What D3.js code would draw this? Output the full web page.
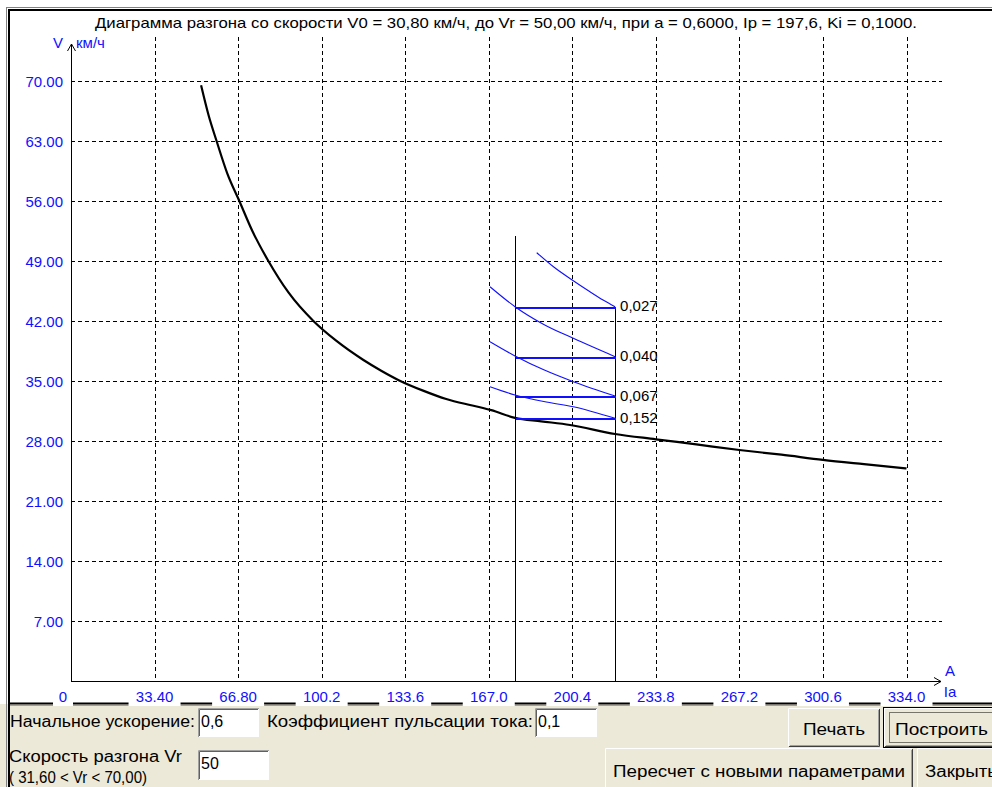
<!DOCTYPE html>
<html>
<head>
<meta charset="utf-8">
<script src="https://cdn.jsdelivr.net/npm/d3@7"></script>
<style>
  html, body { margin: 0; padding: 0; background: #fff; }
  svg { display: block; }
  text { font-family: "Liberation Sans", Arial, sans-serif; }
</style>
</head>
<body>
<svg id="chart" width="992" height="787"></svg>
<script>
// ---------- data ----------
const titleText = "Диаграмма разгона со скорости V0 = 30,80 км/ч, до Vr = 50,00 км/ч, при а = 0,6000, Ip = 197,6, Ki = 0,1000.";
const xTicks = [0, 33.4, 66.8, 100.2, 133.6, 167.0, 200.4, 233.8, 267.2, 300.6, 334.0];
const xTickLabels = ["0", "33.40", "66.80", "100.2", "133.6", "167.0", "200.4", "233.8", "267.2", "300.6", "334.0"];
const yTicks = [7, 14, 21, 28, 35, 42, 49, 56, 63, 70];
const yTickLabels = ["7.00", "14.00", "21.00", "28.00", "35.00", "42.00", "49.00", "56.00", "63.00", "70.00"];

// main speed curve (Ia, V)
const curveI = [52.0, 55.0, 58.2, 62.5, 67.3, 72.5, 78.9, 87.0, 96.9, 106.0, 116.9, 124.0, 131.0, 141.0, 150.0, 159.5, 164.7, 168.0, 177.5, 188.0, 199.5, 217.5, 233.8, 250.0, 267.2, 284.0, 300.6, 317.0, 334.0];
const curveV = [69.5, 66.0, 63.0, 59.2, 56.0, 52.5, 49.0, 45.3, 42.0, 39.7, 37.45, 36.2, 35.1, 33.85, 32.9, 32.2, 31.85, 31.6, 30.7, 30.3, 29.87, 28.82, 28.2, 27.6, 26.95, 26.4, 25.8, 25.3, 24.8];

// blue acceleration curves
const blueI = [
  [186.2, 193.0, 200.8, 207.0, 212.7, 217.5],
  [167.5, 177.5, 189.0, 200.8, 217.5],
  [167.5, 177.5, 189.0, 200.8, 217.5],
  [167.5, 177.5, 189.0, 200.8, 217.5]
];
const blueV = [
  [49.97, 48.3, 46.7, 45.5, 44.45, 43.67],
  [46.0, 43.67, 41.6, 39.98, 37.84],
  [39.58, 37.92, 36.3, 34.92, 33.25],
  [34.33, 33.37, 32.6, 32.0, 30.65]
];
const levelV = [43.67, 37.84, 33.25, 30.65];
const levelLabels = ["0,027", "0,040", "0,067", "0,152"];
const markerI = [177.5, 217.5];
const markerTopV = [51.9, 43.67];

// bottom panel texts
const labelAccel = "Начальное ускорение:";
const valueAccel = "0,6";
const labelPuls = "Коэффициент пульсации тока:";
const valuePuls = "0,1";
const labelVr = "Скорость разгона Vr";
const labelVrRange = "( 31,60 < Vr < 70,00)";
const valueVr = "50";
const btnPrint = "Печать";
const btnBuild = "Построить";
const btnRecalc = "Пересчет с  новыми параметрами";
const btnClose = "Закрыть";

// ---------- drawing ----------
const svg = d3.select("#chart");
const BLUE = "#1010ff";
const PANEL = "#ECE9D8";

const x = d3.scaleLinear().domain([0, 334]).range([71, 906.5]);
const y = d3.scaleLinear().domain([0, 70]).range([681, 81]);
const cx = v => Math.round(x(v)) + 0.5;
const cy = v => Math.round(y(v)) + 0.5;

// backgrounds
svg.append("rect").attr("x", 0).attr("y", 0).attr("width", 992).attr("height", 787).attr("fill", "#fff");
svg.append("rect").attr("x", 0).attr("y", 704).attr("width", 992).attr("height", 83).attr("fill", PANEL);

// frame
svg.append("line").attr("x1", 6).attr("x2", 992).attr("y1", 7.5).attr("y2", 7.5).attr("stroke", "#808080");
svg.append("line").attr("x1", 8).attr("x2", 992).attr("y1", 10).attr("y2", 10).attr("stroke", "#000").attr("stroke-width", 2);
svg.append("line").attr("x1", 6.5).attr("x2", 6.5).attr("y1", 7).attr("y2", 787).attr("stroke", "#808080");
svg.append("line").attr("x1", 9).attr("x2", 9).attr("y1", 9).attr("y2", 787).attr("stroke", "#000").attr("stroke-width", 2);
svg.append("line").attr("x1", 8).attr("x2", 992).attr("y1", 703.5).attr("y2", 703.5).attr("stroke", "#000").attr("stroke-width", 2);
svg.append("line").attr("x1", 10).attr("x2", 992).attr("y1", 705.5).attr("y2", 705.5).attr("stroke", "#a0a0a0");

// title
svg.append("text").attr("x", 95).attr("y", 28).attr("font-size", 15)
  .attr("textLength", 822).attr("lengthAdjust", "spacingAndGlyphs").attr("fill", "#000").text(titleText);

// grid
const grid = svg.append("g").attr("stroke", "#000").attr("stroke-dasharray", "4,3").attr("shape-rendering", "crispEdges");
grid.selectAll("line.v").data(xTicks.filter(d => d > 0)).join("line").attr("class", "v")
  .attr("x1", d => cx(d)).attr("x2", d => cx(d))
  .attr("y1", 37).attr("y2", y(0));
grid.selectAll("line.h").data(yTicks).join("line").attr("class", "h")
  .attr("x1", x(0)).attr("x2", 942)
  .attr("y1", d => cy(d)).attr("y2", d => cy(d));

// axes
const axes = svg.append("g").attr("stroke", "#000").attr("fill", "none");
axes.append("line").attr("x1", cx(0)).attr("x2", cx(0)).attr("y1", 44).attr("y2", y(0)).attr("shape-rendering", "crispEdges");
axes.append("path").attr("d", `M${cx(0) - 4},51 L${cx(0)},44 L${cx(0) + 4},51`);
axes.append("line").attr("x1", x(0)).attr("x2", 941).attr("y1", cy(0)).attr("y2", cy(0)).attr("shape-rendering", "crispEdges");
axes.append("path").attr("d", `M934,${cy(0) - 4} L941,${cy(0)} L934,${cy(0) + 4}`);

// axis titles
svg.append("text").attr("x", 63).attr("y", 48).attr("text-anchor", "end").attr("font-size", 15).attr("fill", BLUE).text("V");
svg.append("text").attr("x", 76).attr("y", 48).attr("font-size", 15).attr("fill", BLUE).text("км/ч");
svg.append("text").attr("x", 950).attr("y", 676).attr("text-anchor", "middle").attr("font-size", 15).attr("fill", BLUE).text("A");
svg.append("text").attr("x", 950).attr("y", 697).attr("text-anchor", "middle").attr("font-size", 15).attr("fill", BLUE).text("Ia");

// y tick labels
svg.selectAll("text.yt").data(yTicks).join("text").attr("class", "yt")
  .attr("x", 63).attr("y", d => y(d) + 6).attr("text-anchor", "end")
  .attr("font-size", 15).attr("fill", BLUE).text((d, i) => yTickLabels[i]);

// x tick labels with white background
const xl = svg.selectAll("g.xt").data(xTicks).join("g").attr("class", "xt")
  .attr("transform", d => `translate(${d === 0 ? x(d) - 8 : x(d)},0)`);
xl.append("rect").attr("x", (d, i) => -(xTickLabels[i].length * 4 + 6)).attr("y", 688)
  .attr("width", (d, i) => xTickLabels[i].length * 8 + 12).attr("height", 18).attr("fill", "#fff");
xl.append("text").attr("x", 0).attr("y", 701.5).attr("text-anchor", "middle")
  .attr("font-size", 15).attr("fill", BLUE).text((d, i) => xTickLabels[i]);

// main curve
const line = d3.line().x(d => x(d[0])).y(d => y(d[1])).curve(d3.curveMonotoneX);
svg.append("path").datum(curveI.map((v, i) => [v, curveV[i]]))
  .attr("d", line).attr("fill", "none").attr("stroke", "#000").attr("stroke-width", 2.2);

// marker verticals
svg.selectAll("line.mk").data(markerI).join("line").attr("class", "mk")
  .attr("x1", d => cx(d)).attr("x2", d => cx(d))
  .attr("y1", (d, i) => y(markerTopV[i])).attr("y2", y(0))
  .attr("stroke", "#000").attr("stroke-width", 1).attr("shape-rendering", "crispEdges");

// blue curves
const bline = d3.line().x(d => x(d[0])).y(d => y(d[1])).curve(d3.curveBasis);
blueI.forEach((arr, k) => {
  svg.append("path").datum(arr.map((v, i) => [v, blueV[k][i]]))
    .attr("d", line).attr("fill", "none").attr("stroke", BLUE).attr("stroke-width", 1.1);
});
// blue horizontal levels
svg.selectAll("line.lv").data(levelV).join("line").attr("class", "lv")
  .attr("x1", cx(markerI[0])).attr("x2", cx(markerI[1]))
  .attr("y1", d => cy(d)).attr("y2", d => cy(d))
  .attr("stroke", BLUE).attr("stroke-width", 2).attr("shape-rendering", "crispEdges");
svg.selectAll("text.lv").data(levelV).join("text").attr("class", "lv")
  .attr("x", x(markerI[1]) + 5).attr("y", d => y(d) + 4.5)
  .attr("font-size", 15).attr("fill", "#000").text((d, i) => levelLabels[i]);

// ---------- bottom panel controls ----------
function textAt(t, x0, yb, len, size) {
  const el = svg.append("text").attr("x", x0).attr("y", yb).attr("font-size", size || 16).attr("fill", "#000").text(t);
  if (len) el.attr("textLength", len).attr("lengthAdjust", "spacingAndGlyphs");
  return el;
}
function inputBox(x0, y0, w, h, val) {
  svg.append("rect").attr("x", x0).attr("y", y0).attr("width", w).attr("height", h).attr("fill", "#fff");
  svg.append("path").attr("d", `M${x0 + 0.5},${y0 + h} V${y0 + 0.5} H${x0 + w}`).attr("stroke", "#a0a0a0").attr("fill", "none");
  svg.append("path").attr("d", `M${x0 + 1.5},${y0 + h - 1} V${y0 + 1.5} H${x0 + w - 1}`).attr("stroke", "#606060").attr("fill", "none");
  svg.append("path").attr("d", `M${x0 + 1},${y0 + h - 0.5} H${x0 + w - 0.5} V${y0 + 1}`).attr("stroke", "#fff").attr("fill", "none");
  textAt(val, x0 + 3, y0 + 19, null, 16);
}
function button(x0, y0, w, h, label, tx, tlen, focus) {
  svg.append("rect").attr("x", x0).attr("y", y0).attr("width", w).attr("height", h).attr("fill", PANEL);
  if (focus) {
    svg.append("rect").attr("x", x0 + 0.5).attr("y", y0 + 0.5).attr("width", w - 1).attr("height", h - 1)
      .attr("fill", "none").attr("stroke", "#000").attr("stroke-width", 1);
    x0 += 1; y0 += 1; w -= 2; h -= 2;
  }
  svg.append("path").attr("d", `M${x0 + 0.5},${y0 + h - 1} V${y0 + 0.5} H${x0 + w - 1}`).attr("stroke", "#fff").attr("fill", "none");
  svg.append("path").attr("d", `M${x0 + 1},${y0 + h - 0.5} H${x0 + w - 0.5} V${y0 + 1}`).attr("stroke", "#404040").attr("fill", "none");
  svg.append("path").attr("d", `M${x0 + 2},${y0 + h - 1.5} H${x0 + w - 1.5} V${y0 + 2}`).attr("stroke", "#a0a0a0").attr("fill", "none");
  if (focus) {
    svg.append("rect").attr("x", x0 + 5.5).attr("y", y0 + 4.5).attr("width", w - 11).attr("height", h - 9)
      .attr("fill", "none").attr("stroke", "#000").attr("stroke-dasharray", "1,1");
  }
  textAt(label, tx, y0 + h / 2 + 7, tlen, 16);
}

textAt(labelAccel, 10, 727, 185);
inputBox(198, 708, 61, 29, valueAccel);
textAt(labelPuls, 267, 727, 266);
inputBox(535, 708, 62, 29, valuePuls);
textAt(labelVr, 9, 762, 173);
textAt(labelVrRange, 9, 783, 138);
inputBox(198, 750, 71, 30, valueVr);
button(788, 708, 92, 39, btnPrint, 803, 62);
button(883, 707, 120, 41, btnBuild, 895, 93, true);
button(605, 748, 308, 44, btnRecalc, 613, 292);
button(917, 748, 90, 44, btnClose, 925, 72);
</script>
</body>
</html>
